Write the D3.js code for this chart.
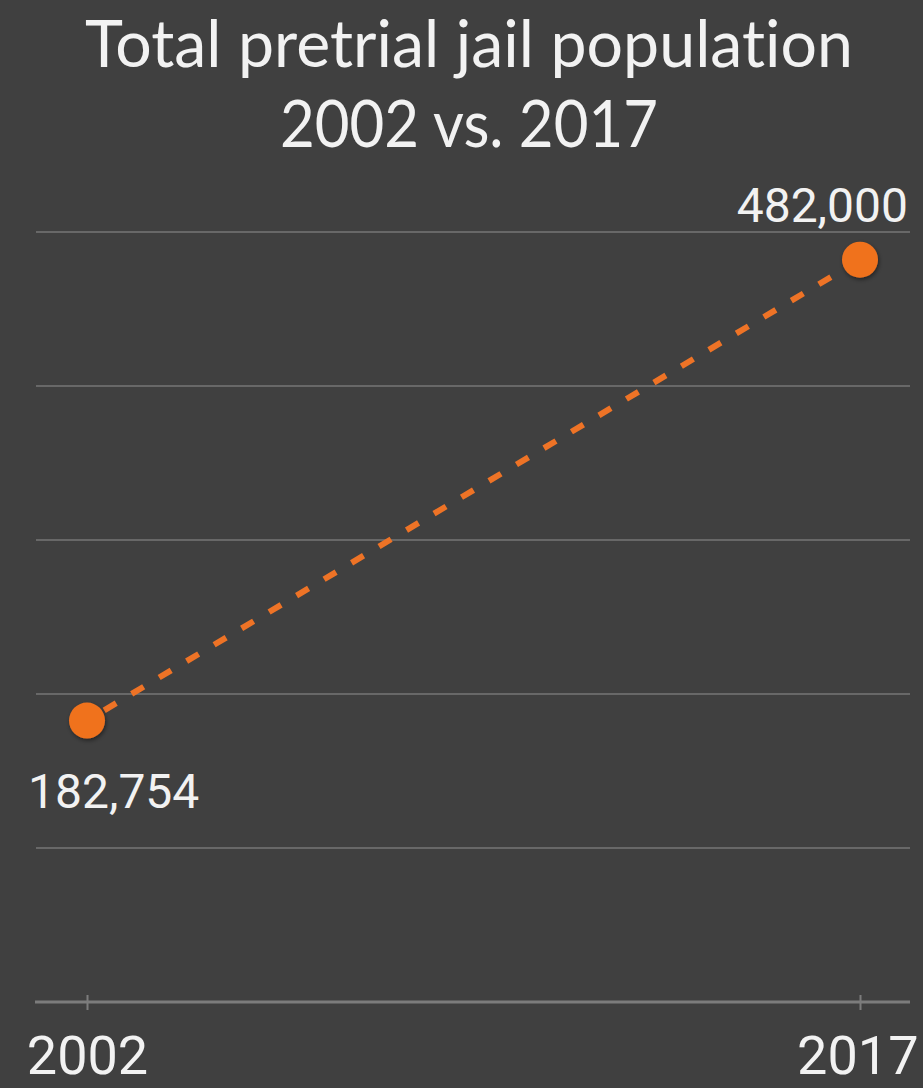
<!DOCTYPE html>
<html>
<head>
<meta charset="utf-8">
<script src="https://cdn.jsdelivr.net/npm/d3@7"></script>
<style>
  html, body { margin: 0; padding: 0; background: #404040; }
  svg { display: block; }
  text { font-variant-ligatures: none; font-feature-settings: "liga" 0, "clig" 0, "dlig" 0; }
</style>
</head>
<body>
<svg id="chart" width="923" height="1088"></svg>
<script>
// Pretrial jail population, two survey years
const years = [2002, 2017];
const population = [182754, 482000];
const valueLabels = ["182,754", "482,000"];
const yTicks = [0, 100000, 200000, 300000, 400000, 500000];
const titleLines = ["Total pretrial jail population", "2002 vs. 2017"];

const W = 923, H = 1088;
const svg = d3.select("#chart");

const x = d3.scaleLinear().domain([2002, 2017]).range([87, 860]);
const y = d3.scaleLinear().domain([0, 500000]).range([1002, 232]);

const gridLeft = 36, gridRight = 910;

// background
svg.append("rect").attr("width", W).attr("height", H).attr("fill", "#404040");

const defs = svg.append("defs");
const shadow = defs.append("filter").attr("id", "dotShadow")
  .attr("x", "-50%").attr("y", "-50%").attr("width", "200%").attr("height", "200%");
shadow.append("feDropShadow").attr("dx", 1).attr("dy", 2).attr("stdDeviation", 2)
  .attr("flood-color", "#000").attr("flood-opacity", 0.45);

// title
svg.append("g").selectAll("text").data(titleLines).join("text")
  .attr("x", 469)
  .attr("y", (d, i) => i === 0 ? 67 : 147)
  .attr("text-anchor", "middle")
  .attr("font-family", "Lato, 'Open Sans', sans-serif")
  .attr("font-size", 66)
  .attr("fill", "#f2f2f2")
  .attr("textLength", (d, i) => i === 0 ? 768 : 378)
  .attr("lengthAdjust", "spacingAndGlyphs")
  .style("font-variant-ligatures", "none")
  .style("font-feature-settings", "\"liga\" 0, \"clig\" 0")
  .style("letter-spacing", "0.01px")
  .text(d => d);

// horizontal grid lines
svg.append("g").selectAll("line").data(yTicks.filter(t => t > 0)).join("line")
  .attr("x1", gridLeft).attr("x2", gridRight)
  .attr("y1", d => y(d)).attr("y2", d => y(d))
  .attr("stroke", "#686868").attr("stroke-width", 2);

// x axis
const xAxis = d3.axisBottom(x).tickValues(years).tickFormat(d3.format("d"))
  .tickSize(12).tickPadding(22);
const axisG = svg.append("g").attr("transform", `translate(0,${y(0)})`).call(xAxis);
axisG.select(".domain").remove();
axisG.insert("line", ":first-child")
  .attr("x1", gridLeft - 1).attr("x2", gridRight)
  .attr("y1", 0).attr("y2", 0)
  .attr("stroke", "#7c7c7c").attr("stroke-width", 3);
axisG.selectAll(".tick line")
  .attr("y1", -7).attr("y2", 8)
  .attr("stroke", "#7c7c7c").attr("stroke-width", 2);
axisG.selectAll(".tick text")
  .attr("font-family", "Roboto, sans-serif")
  .attr("font-size", 54)
  .attr("fill", "#f2f2f2")
  .attr("dy", "0.71em");
// keep the right-hand year inside the frame
axisG.selectAll(".tick text").filter(d => d === 2017)
  .attr("text-anchor", "end").attr("x", 58);

const points = years.map((yr, i) => ({ year: yr, value: population[i], label: valueLabels[i] }));

// dashed connecting line
const line = d3.line().x(d => x(d.year)).y(d => y(d.value));
svg.append("path")
  .datum(points)
  .attr("d", line)
  .attr("fill", "none")
  .attr("stroke", "#ee7326")
  .attr("stroke-width", 6)
  .attr("stroke-dasharray", "14,18")
  .attr("stroke-dashoffset", -20);

// dots
svg.append("g").selectAll("circle").data(points).join("circle")
  .attr("cx", d => x(d.year))
  .attr("cy", d => y(d.value))
  .attr("r", 18)
  .attr("fill", "#f0721f")
  .attr("filter", "url(#dotShadow)");

// value labels
svg.append("g").selectAll("text").data(points).join("text")
  .attr("x", (d, i) => i === 0 ? x(d.year) - 59 : x(d.year) + 48)
  .attr("y", (d, i) => i === 0 ? y(d.value) + 87 : y(d.value) - 38)
  .attr("text-anchor", (d, i) => i === 0 ? "start" : "end")
  .attr("font-family", "Roboto, sans-serif")
  .attr("font-size", 48)
  .attr("fill", "#f2f2f2")
  .text(d => d.label);
</script>
</body>
</html>
